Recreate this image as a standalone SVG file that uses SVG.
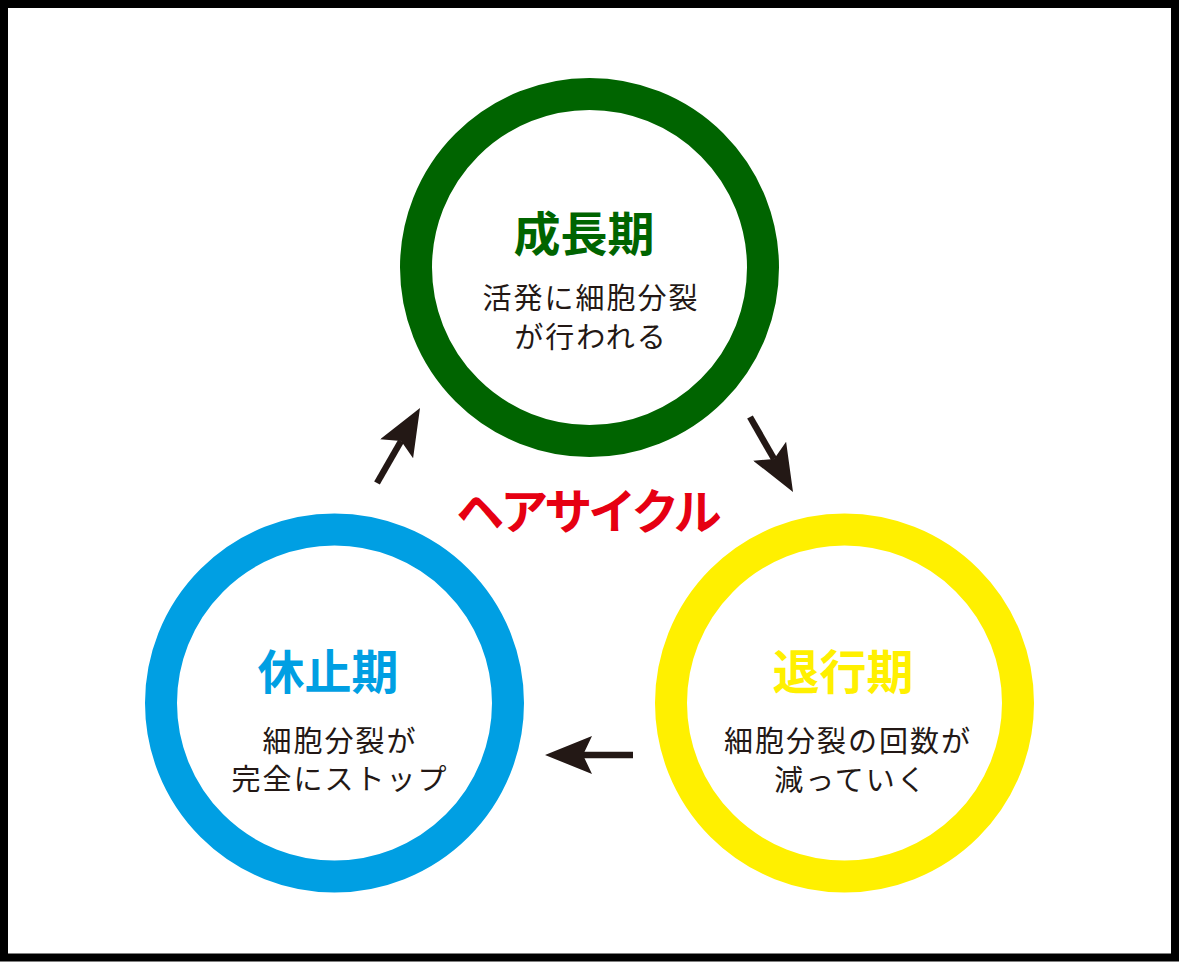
<svg xmlns="http://www.w3.org/2000/svg" width="1179" height="962" viewBox="0 0 1179 962">
  <style>
    .ring { fill: none; stroke-width: 32; }
    .title { font-family: "Noto Sans CJK JP", "Noto Sans", sans-serif; font-weight: 700; font-size: 47px; text-anchor: middle; }
    .sub { font-family: "Noto Sans CJK JP", "Noto Sans", sans-serif; font-weight: 400; font-size: 29px; letter-spacing: 2px; fill: #231815; text-anchor: middle; }
    .arrow { stroke: #231815; stroke-width: 6.5; fill: none; }
  </style>
  <defs>
    <marker id="head" viewBox="0 0 47 38" refX="9" refY="19" markerWidth="47" markerHeight="38" markerUnits="userSpaceOnUse" orient="auto">
      <path d="M0,0 L47,19 L0,38 L9,19 Z" fill="#231815"/>
    </marker>
  </defs>
  <rect x="0" y="0" width="1179" height="962" fill="#ffffff"/>
  <rect x="4" y="4" width="1171" height="953.5" fill="none" stroke="#000000" stroke-width="8"/>

  <g id="growth">
    <circle class="ring" cx="589.5" cy="267.5" r="173.5" stroke="#006400"/>
    <text class="title" x="584" y="251" fill="#006400">成長期</text>
    <text class="sub"><tspan x="591" y="309">活発に細胞分裂</tspan><tspan x="591" y="348">が行われる</tspan></text>
  </g>

  <g id="rest">
    <circle class="ring" cx="334.5" cy="703" r="173.5" stroke="#009FE3"/>
    <text class="title" x="328" y="689" fill="#009FE3">休止期</text>
    <text class="sub"><tspan x="340" y="752">細胞分裂が</tspan><tspan x="340" y="790">完全にストップ</tspan></text>
  </g>

  <g id="regression">
    <circle class="ring" cx="844.5" cy="703" r="173.5" stroke="#FFF000"/>
    <text class="title" x="843" y="689" fill="#FFF000">退行期</text>
    <text class="sub"><tspan x="848" y="752">細胞分裂の回数が</tspan><tspan x="851" y="791">減っていく</tspan></text>
  </g>

  <g id="label">
    <text x="587" y="529" font-family="Noto Sans CJK JP, Noto Sans, sans-serif" font-weight="700" font-size="48" letter-spacing="-4" fill="#E60012" text-anchor="middle">ヘアサイクル</text>
  </g>

  <g id="connectors">
    <line class="arrow" x1="377" y1="483" x2="401.1" y2="441" marker-end="url(#head)"/>
    <line class="arrow" x1="750" y1="417" x2="774.1" y2="459" marker-end="url(#head)"/>
    <line class="arrow" x1="633" y1="755" x2="583" y2="755" marker-end="url(#head)"/>
  </g>
</svg>
